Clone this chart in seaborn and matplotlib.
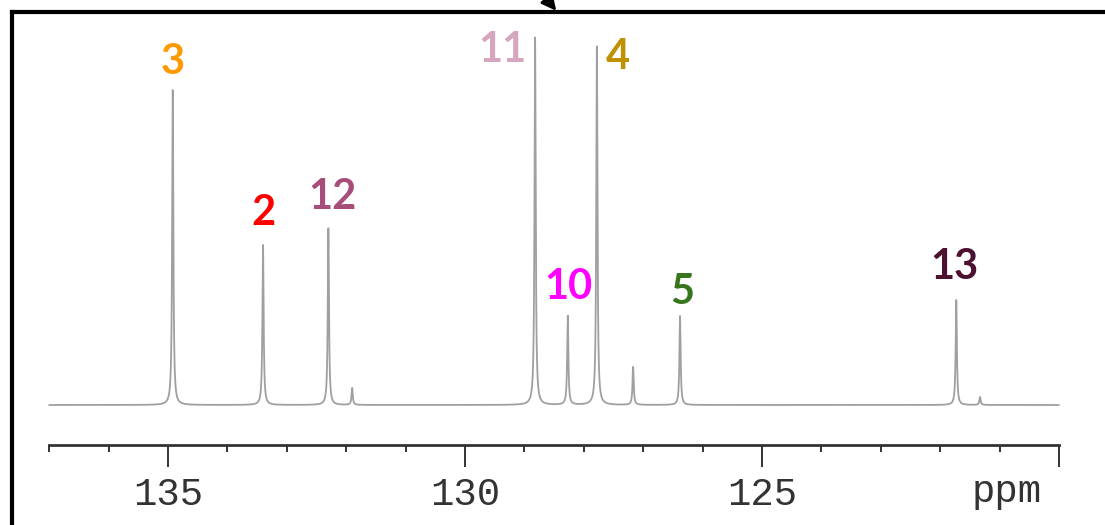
import matplotlib
matplotlib.use("Agg")
import matplotlib.pyplot as plt
import seaborn as sns
import numpy as np

# peak table (ppm, relative height)
peak_ppm = [134.92, 133.40, 132.30, 131.90, 128.82, 128.27, 127.78, 127.17, 126.38, 121.73, 121.33]
peak_height = [315, 160, 177, 17, 368, 89, 359, 38, 89, 105, 8]

# labelled carbons
label_text = ["3", "2", "12", "11", "10", "4", "5", "13"]
label_peak = [0, 1, 2, 4, 5, 6, 8, 9]
label_color = ["#FF9900", "#FF0000", "#A64D79", "#D5A6BD", "#FF00FF", "#BF9000", "#38761D", "#4C1130"]
label_offset = [(0, 28), (0, 32), (4, 31), (-33, -13), (1, 29), (21, -11), (2, 24), (-2, 33)]

major_ticks = [135, 130, 125, 120]
major_labels = ["135", "130", "125", ""]
minor_ticks = [t for t in range(121, 138) if t not in major_ticks]

sns.set_style("white")

# spectrum built from the peak table (lorentzian line shapes)
ppm = np.linspace(137.0, 120.0, 12000)
gamma = 0.012
intensity = np.zeros_like(ppm)
for p, h in zip(peak_ppm, peak_height):
    intensity += h * gamma**2 / ((ppm - p) ** 2 + gamma**2)

fig = plt.figure(figsize=(11.05, 5.25), dpi=100)
ax = fig.add_axes([12 / 1105, 0, 1 - 12 / 1105, 1 - 12 / 525])

sns.lineplot(x=ppm, y=intensity, ax=ax, color="#A0A0A0", lw=1.3, sort=False, estimator=None)

ax.set_xlim(137.626, 119.226)
ax.set_ylim(-120, 393)

# frame: thick top and left border only
for side in ["top", "left"]:
    ax.spines[side].set_color("black")
    ax.spines[side].set_linewidth(3)
ax.spines["right"].set_visible(False)

# ppm scale
ax.spines["bottom"].set_position(("data", -40))
ax.spines["bottom"].set_bounds(137, 120)
ax.spines["bottom"].set_color("#333333")
ax.spines["bottom"].set_linewidth(2)

ax.set_xticks(major_ticks)
ax.set_xticklabels(major_labels)
ax.set_xticks(minor_ticks, minor=True)
ax.tick_params(axis="x", which="both", bottom=True, top=False)
ax.tick_params(axis="x", which="major", direction="out", length=16, width=1.4,
               color="#333333", pad=7, labelsize=28, labelcolor="#333333")
ax.tick_params(axis="x", which="minor", direction="out", length=5, width=1.4, color="#333333")
for lab in ax.get_xticklabels():
    lab.set_family("Liberation Mono")
ax.set_yticks([])
ax.set_xlabel("")
ax.set_ylabel("")

ax.annotate("ppm", xy=(120, -40), xycoords="data", xytext=(-17, -47),
            textcoords="offset pixels", ha="right", va="center",
            fontsize=28, family="Liberation Mono", color="#333333")

for txt, i, col, off in zip(label_text, label_peak, label_color, label_offset):
    ax.annotate(txt, xy=(peak_ppm[i], peak_height[i]), xycoords="data",
                xytext=off, textcoords="offset pixels", ha="center", va="center",
                fontsize=30, fontweight="bold", family="Lato", color=col)

# small arrow poking in at the top edge
ax.annotate("", xy=(558, 512), xytext=(542, 532), xycoords="figure pixels",
            arrowprops=dict(arrowstyle="-|>", color="black", lw=2, mutation_scale=22))

fig.savefig("out.png", dpi=100, facecolor="white")
